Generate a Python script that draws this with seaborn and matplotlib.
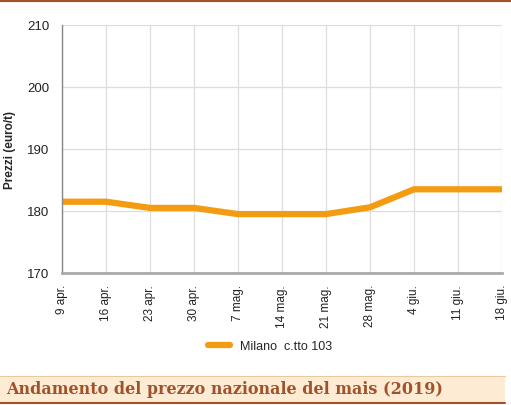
import matplotlib
matplotlib.use("Agg")
import matplotlib.pyplot as plt
import seaborn as sns
import pandas as pd

dates = ["9 apr.", "16 apr.", "23 apr.", "30 apr.", "7 mag.", "14 mag.",
         "21 mag.", "28 mag.", "4 giu.", "11 giu.", "18 giu."]
milano = [181.5, 181.5, 180.5, 180.5, 179.5, 179.5, 179.5, 180.6, 183.5, 183.5, 183.5]
series_name = "Milano  c.tto 103"

df = pd.DataFrame({"pos": range(len(dates)), "prezzo": milano, "serie": series_name})

sns.set_style("white")
plt.rcParams["font.family"] = ["Liberation Sans", "DejaVu Sans"]

fig = plt.figure(figsize=(5.11, 4.06), dpi=100)
ax = fig.add_axes([62 / 511, 1 - 274 / 406, 440 / 511, 248 / 406])

sns.lineplot(data=df, x="pos", y="prezzo", hue="serie", palette=["#f39c12"],
             linewidth=4.5, ax=ax, legend=True)

ax.set_xlim(0, len(dates) - 1)
ax.set_ylim(170, 210)
ax.set_yticks([170, 180, 190, 200, 210])
ax.set_xticks(range(len(dates)))
ax.set_xticklabels(dates, rotation=90, fontsize=8.5, color="#222222")
ax.tick_params(axis="y", labelsize=9.5, labelcolor="#222222", pad=3)
ax.tick_params(axis="both", length=6, color="#aaaaaa", width=1.2)
ax.tick_params(axis="x", pad=2)
ax.grid(True, color="#dddddd", linewidth=0.9)
ax.set_axisbelow(True)
for s in ["top", "right"]:
    ax.spines[s].set_visible(False)
ax.spines["left"].set_color("#888888")
ax.spines["left"].set_linewidth(1)
ax.spines["bottom"].set_color("#aaaaaa")
ax.spines["bottom"].set_linewidth(2)
ax.set_xlabel("")
ax.set_ylabel("Prezzi (euro/t)", fontsize=8.5, fontweight="bold", labelpad=8)

leg = ax.legend(loc="center", bbox_to_anchor=(270 / 511, 1 - 347 / 406),
                bbox_transform=fig.transFigure, frameon=False, fontsize=9,
                handlelength=1.8)

# top rule
fig.add_artist(plt.Line2D([0, 1], [1 - 2 / 406, 1 - 2 / 406], color="#a0522d", linewidth=1.5))
# title bar
fig.add_artist(plt.Rectangle((0, 1 - 405 / 406), 505 / 511, 28 / 406,
                             facecolor="#fdebd3", edgecolor="none"))
fig.add_artist(plt.Line2D([0, 505 / 511], [1 - 377 / 406] * 2, color="#e8c9a0", linewidth=0.8))
fig.add_artist(plt.Line2D([0, 505 / 511], [1 - 404 / 406] * 2, color="#a0522d", linewidth=1.5))
fig.text(6 / 511, 1 - 390 / 406, "Andamento del prezzo nazionale del mais (2019)",
         fontsize=11.5, fontweight="bold", color="#a0522d", va="center",
         family=["DejaVu Serif"])

fig.savefig("out.png", dpi=100)
